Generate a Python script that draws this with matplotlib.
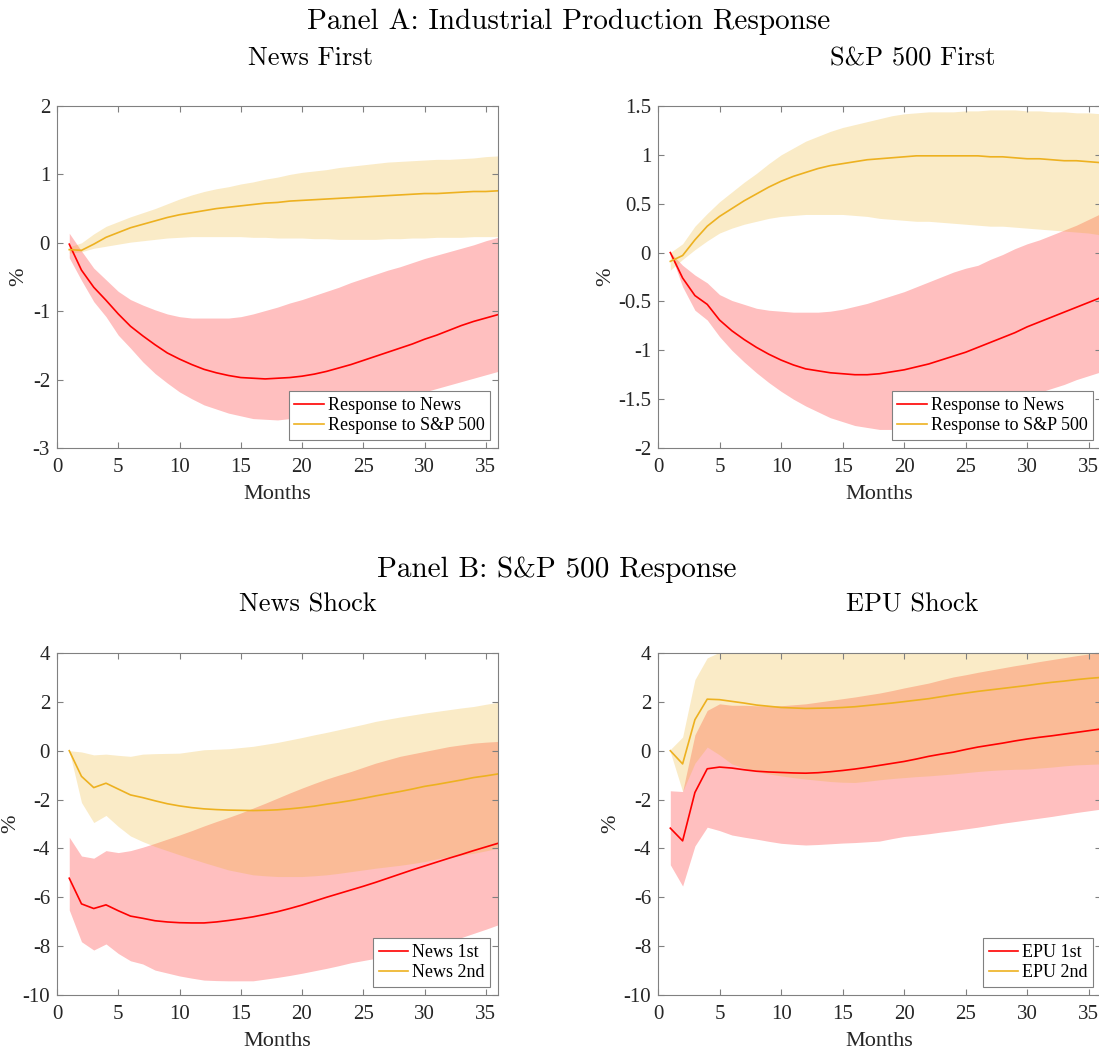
import numpy as np
import matplotlib
matplotlib.use('Agg')
import matplotlib.pyplot as plt

plt.rcParams['font.family'] = ['Liberation Serif', 'DejaVu Serif']
plt.rcParams['axes.unicode_minus'] = False

months = np.arange(1, 37)

# Panel A, News First
ipn_news = [-0.02, -0.40, -0.65, -0.84, -1.04, -1.22, -1.36, -1.49, -1.61, -1.70, -1.78, -1.85,
            -1.90, -1.94, -1.97, -1.98, -1.99, -1.98, -1.97, -1.95, -1.92, -1.88, -1.83, -1.78,
            -1.72, -1.66, -1.60, -1.54, -1.48, -1.41, -1.35, -1.28, -1.21, -1.15, -1.10, -1.05]
ipn_news_lo = [-0.22, -0.55, -0.86, -1.08, -1.35, -1.54, -1.74, -1.91, -2.05, -2.18, -2.28, -2.37,
               -2.43, -2.49, -2.53, -2.57, -2.58, -2.59, -2.57, -2.54, -2.51, -2.48, -2.45, -2.42,
               -2.40, -2.35, -2.31, -2.27, -2.22, -2.18, -2.13, -2.08, -2.03, -1.98, -1.93, -1.88]
ipn_news_hi = [0.14, -0.12, -0.37, -0.54, -0.71, -0.83, -0.91, -0.98, -1.04, -1.08, -1.10, -1.10,
               -1.10, -1.10, -1.08, -1.04, -0.99, -0.94, -0.88, -0.83, -0.77, -0.71, -0.65, -0.58,
               -0.52, -0.46, -0.40, -0.35, -0.29, -0.23, -0.18, -0.13, -0.08, -0.03, 0.03, 0.08]
ipn_sp = [-0.10, -0.11, -0.02, 0.08, 0.15, 0.22, 0.27, 0.32, 0.37, 0.41, 0.44, 0.47,
          0.50, 0.52, 0.54, 0.56, 0.58, 0.59, 0.61, 0.62, 0.63, 0.64, 0.65, 0.66,
          0.67, 0.68, 0.69, 0.70, 0.71, 0.72, 0.72, 0.73, 0.74, 0.75, 0.75, 0.76]
ipn_sp_lo = [-0.15, -0.13, -0.08, -0.05, -0.02, 0.01, 0.03, 0.05, 0.07, 0.08, 0.09, 0.09,
             0.09, 0.09, 0.09, 0.08, 0.08, 0.07, 0.07, 0.07, 0.06, 0.06, 0.05, 0.05,
             0.05, 0.05, 0.06, 0.06, 0.07, 0.07, 0.08, 0.08, 0.08, 0.09, 0.09, 0.09]
ipn_sp_hi = [-0.06, 0.00, 0.13, 0.24, 0.31, 0.38, 0.44, 0.50, 0.57, 0.64, 0.70, 0.75,
             0.79, 0.82, 0.86, 0.89, 0.93, 0.96, 1.00, 1.03, 1.05, 1.07, 1.10, 1.12,
             1.14, 1.16, 1.18, 1.19, 1.20, 1.21, 1.22, 1.22, 1.23, 1.24, 1.26, 1.27]

# Panel A, S&P 500 First
ips_news = [0.00, -0.26, -0.44, -0.53, -0.69, -0.80, -0.89, -0.97, -1.04, -1.10, -1.15, -1.19,
            -1.21, -1.23, -1.24, -1.25, -1.25, -1.24, -1.22, -1.20, -1.17, -1.14, -1.10, -1.06,
            -1.02, -0.97, -0.92, -0.87, -0.82, -0.76, -0.71, -0.66, -0.61, -0.56, -0.51, -0.46]
ips_news_lo = [0.00, -0.35, -0.59, -0.69, -0.86, -1.00, -1.12, -1.23, -1.33, -1.42, -1.50, -1.57,
               -1.63, -1.69, -1.73, -1.77, -1.79, -1.81, -1.81, -1.80, -1.78, -1.76, -1.74, -1.71,
               -1.68, -1.64, -1.60, -1.56, -1.51, -1.47, -1.43, -1.39, -1.35, -1.30, -1.26, -1.22]
ips_news_hi = [0.00, -0.13, -0.23, -0.31, -0.43, -0.49, -0.53, -0.57, -0.59, -0.60, -0.61, -0.61,
               -0.61, -0.60, -0.58, -0.55, -0.52, -0.48, -0.44, -0.40, -0.35, -0.30, -0.25, -0.20,
               -0.16, -0.13, -0.07, -0.02, 0.04, 0.09, 0.13, 0.18, 0.23, 0.28, 0.34, 0.40]
ips_sp = [-0.09, -0.03, 0.13, 0.27, 0.37, 0.45, 0.53, 0.60, 0.67, 0.73, 0.78, 0.82,
          0.86, 0.89, 0.91, 0.93, 0.95, 0.96, 0.97, 0.98, 0.99, 0.99, 0.99, 0.99,
          0.99, 0.99, 0.98, 0.98, 0.97, 0.96, 0.96, 0.95, 0.94, 0.94, 0.93, 0.92]
ips_sp_lo = [-0.18, -0.07, 0.03, 0.12, 0.20, 0.25, 0.29, 0.32, 0.35, 0.37, 0.38, 0.39,
             0.39, 0.39, 0.39, 0.38, 0.37, 0.35, 0.34, 0.33, 0.32, 0.32, 0.31, 0.30,
             0.29, 0.28, 0.27, 0.27, 0.26, 0.25, 0.24, 0.23, 0.22, 0.21, 0.20, 0.18]
ips_sp_hi = [0.00, 0.09, 0.27, 0.40, 0.52, 0.62, 0.72, 0.81, 0.91, 1.00, 1.07, 1.14,
             1.19, 1.24, 1.28, 1.31, 1.34, 1.37, 1.40, 1.42, 1.43, 1.44, 1.44, 1.44,
             1.45, 1.45, 1.46, 1.46, 1.46, 1.45, 1.45, 1.44, 1.44, 1.43, 1.43, 1.42]

# Panel B, News Shock
spn_1st = [-5.22, -6.27, -6.46, -6.31, -6.55, -6.77, -6.86, -6.96, -7.01, -7.04, -7.05, -7.05,
           -7.01, -6.95, -6.88, -6.80, -6.70, -6.59, -6.46, -6.32, -6.16, -6.00, -5.85, -5.70,
           -5.55, -5.39, -5.22, -5.05, -4.88, -4.72, -4.56, -4.40, -4.25, -4.09, -3.94, -3.79]
spn_1st_lo = [-6.52, -7.82, -8.16, -7.91, -8.30, -8.60, -8.73, -8.98, -9.10, -9.22, -9.31, -9.39,
              -9.41, -9.42, -9.42, -9.42, -9.35, -9.28, -9.20, -9.11, -9.01, -8.91, -8.80, -8.68,
              -8.59, -8.50, -8.40, -8.30, -8.20, -8.09, -7.96, -7.82, -7.65, -7.48, -7.31, -7.13]
spn_1st_hi = [-3.54, -4.31, -4.40, -4.09, -4.17, -4.09, -3.95, -3.79, -3.62, -3.45, -3.27, -3.08,
              -2.90, -2.73, -2.55, -2.35, -2.15, -1.94, -1.73, -1.53, -1.34, -1.16, -1.00, -0.85,
              -0.68, -0.51, -0.37, -0.23, -0.13, -0.03, 0.07, 0.17, 0.24, 0.31, 0.35, 0.38]
spn_2nd = [0.00, -1.05, -1.51, -1.33, -1.57, -1.81, -1.92, -2.05, -2.17, -2.26, -2.33, -2.38,
           -2.41, -2.43, -2.44, -2.45, -2.44, -2.42, -2.38, -2.33, -2.27, -2.19, -2.12, -2.04,
           -1.95, -1.85, -1.76, -1.67, -1.57, -1.46, -1.38, -1.29, -1.20, -1.10, -1.03, -0.95]
spn_2nd_lo = [0.00, -2.12, -2.94, -2.65, -3.10, -3.49, -3.72, -3.92, -4.09, -4.26, -4.42, -4.58,
              -4.73, -4.88, -4.98, -5.08, -5.12, -5.15, -5.15, -5.15, -5.12, -5.08, -5.02, -4.95,
              -4.88, -4.81, -4.75, -4.69, -4.62, -4.54, -4.43, -4.33, -4.27, -4.20, -4.10, -3.99]
spn_2nd_hi = [0.00, -0.05, -0.17, -0.14, -0.19, -0.23, -0.14, -0.12, -0.11, -0.10, -0.03, 0.04,
              0.06, 0.08, 0.13, 0.18, 0.26, 0.34, 0.44, 0.54, 0.65, 0.75, 0.86, 0.97,
              1.08, 1.20, 1.29, 1.38, 1.46, 1.54, 1.61, 1.68, 1.75, 1.81, 1.90, 1.98]

# Panel B, EPU Shock
spe_1st = [-3.17, -3.69, -1.71, -0.74, -0.67, -0.71, -0.78, -0.84, -0.87, -0.89, -0.91, -0.92,
           -0.90, -0.86, -0.81, -0.75, -0.68, -0.60, -0.52, -0.44, -0.34, -0.23, -0.14, -0.06,
           0.05, 0.15, 0.23, 0.31, 0.40, 0.48, 0.55, 0.61, 0.68, 0.75, 0.82, 0.89]
spe_1st_lo = [-4.67, -5.54, -3.90, -3.13, -3.27, -3.45, -3.54, -3.62, -3.71, -3.79, -3.83, -3.86,
              -3.84, -3.81, -3.78, -3.76, -3.73, -3.70, -3.60, -3.51, -3.46, -3.40, -3.33, -3.27,
              -3.20, -3.13, -3.05, -2.97, -2.90, -2.83, -2.76, -2.69, -2.61, -2.53, -2.46, -2.39]
spe_1st_hi = [-1.64, -1.67, 0.65, 1.65, 1.92, 1.86, 1.86, 1.84, 1.84, 1.84, 1.88, 1.92,
              1.99, 2.06, 2.13, 2.20, 2.28, 2.36, 2.46, 2.57, 2.67, 2.77, 2.90, 3.02,
              3.11, 3.21, 3.30, 3.39, 3.48, 3.56, 3.65, 3.73, 3.81, 3.89, 3.96, 4.02]
spe_2nd = [0.00, -0.54, 1.27, 2.11, 2.09, 2.02, 1.95, 1.87, 1.82, 1.77, 1.75, 1.73,
           1.74, 1.75, 1.77, 1.80, 1.85, 1.90, 1.95, 2.01, 2.07, 2.13, 2.21, 2.29,
           2.36, 2.43, 2.49, 2.55, 2.61, 2.67, 2.74, 2.80, 2.85, 2.91, 2.96, 3.00]
spe_2nd_lo = [-0.05, -1.67, -0.51, 0.15, -0.17, -0.54, -0.71, -0.85, -0.95, -1.03, -1.10, -1.16,
              -1.21, -1.26, -1.29, -1.30, -1.25, -1.19, -1.14, -1.10, -1.06, -1.03, -0.99, -0.95,
              -0.90, -0.85, -0.81, -0.78, -0.76, -0.75, -0.71, -0.67, -0.62, -0.58, -0.56, -0.54]
spe_2nd_hi = [0.05, 0.56, 2.91, 3.80, 4.03, 4.10, 4.15, 4.20, 4.25, 4.30, 4.36, 4.42,
              4.48, 4.55, 4.62, 4.70, 4.78, 4.86, 4.94, 5.02, 5.10, 5.18, 5.26, 5.34,
              5.42, 5.50, 5.57, 5.64, 5.71, 5.78, 5.84, 5.90, 5.96, 6.02, 6.08, 6.14]

red = (1.0, 0.0, 0.0)
orange = (0.929, 0.694, 0.125)
grey = '#808080'
dark = '#262626'
W, H = 1099, 1051

fig = plt.figure(figsize=(W / 100, H / 100), dpi=100)


def make_ax(left, right, top, bottom):
    return fig.add_axes([left / W, 1 - bottom / H, (right - left) / W, (bottom - top) / H])


def panel(ax, l1, l1_lo, l1_hi, l2, l2_lo, l2_hi, labels, ylim, yticks, yticklabels):
    ax.fill_between(months, l1_lo, l1_hi, color=red, alpha=0.25, lw=0)
    ax.fill_between(months, l2_lo, l2_hi, color=orange, alpha=0.25, lw=0)
    ax.plot(months, l1, color=red, lw=1.2, label=labels[0])
    ax.plot(months, l2, color=orange, lw=1.2, label=labels[1])
    ax.set_xlim(0, 36)
    ax.set_ylim(*ylim)
    ax.set_xticks([0, 5, 10, 15, 20, 25, 30, 35])
    ax.set_yticks(yticks)
    ax.set_yticklabels(yticklabels)
    ax.tick_params(direction='in', top=True, right=True, length=4, width=0.8,
                   color=grey, labelcolor=dark, labelsize=15)
    ax.tick_params(axis='x', pad=7)
    ax.tick_params(axis='y', pad=5)
    for s in ax.spines.values():
        s.set_color(grey)
        s.set_linewidth(0.8)
    ax.set_xlabel('Months', fontsize=16, color=dark, labelpad=6)
    leg = ax.legend(loc='lower right', fontsize=13, fancybox=False, framealpha=1,
                    edgecolor=grey, handlelength=1.65, handletextpad=0.2,
                    borderaxespad=0.45, borderpad=0.3, labelspacing=0.2)
    leg.get_frame().set_linewidth(0.8)


ax1 = make_ax(57, 498, 106, 448)
panel(ax1, ipn_news, ipn_news_lo, ipn_news_hi, ipn_sp, ipn_sp_lo, ipn_sp_hi,
      ['Response to News', 'Response to S&P 500'], (-3, 2),
      [-3, -2, -1, 0, 1, 2], ['-3', '-2', '-1', '0', '1', '2'])

ax2 = make_ax(658, 1101, 106, 448)
panel(ax2, ips_news, ips_news_lo, ips_news_hi, ips_sp, ips_sp_lo, ips_sp_hi,
      ['Response to News', 'Response to S&P 500'], (-2, 1.5),
      [-2, -1.5, -1, -0.5, 0, 0.5, 1, 1.5], ['-2', '-1.5', '-1', '-0.5', '0', '0.5', '1', '1.5'])

ax3 = make_ax(57, 498, 653, 995)
panel(ax3, spn_1st, spn_1st_lo, spn_1st_hi, spn_2nd, spn_2nd_lo, spn_2nd_hi,
      ['News 1st', 'News 2nd'], (-10, 4),
      [-10, -8, -6, -4, -2, 0, 2, 4], ['-10', '-8', '-6', '-4', '-2', '0', '2', '4'])

ax4 = make_ax(658, 1101, 653, 995)
panel(ax4, spe_1st, spe_1st_lo, spe_1st_hi, spe_2nd, spe_2nd_lo, spe_2nd_hi,
      ['EPU 1st', 'EPU 2nd'], (-10, 4),
      [-10, -8, -6, -4, -2, 0, 2, 4], ['-10', '-8', '-6', '-4', '-2', '0', '2', '4'])

# y labels placed by hand, the tick label widths differ between panels
for x, y in [(19, 277), (606, 277), (11, 824), (611, 824)]:
    fig.text(x / W, 1 - y / H, '%', fontsize=16, color=dark, rotation=90,
             ha='center', va='center')


# titles in Computer Modern (cmr10 ships with matplotlib)
def ftext(x, y, s, size):
    fig.text(x / W, 1 - y / H, s, fontsize=size, ha='center', va='baseline',
             family=['cmr10', 'DejaVu Serif'])


ftext(569, 29, 'Panel A: Industrial Production Response', 21)
ftext(310, 65, 'News First', 19)
ftext(913, 65, 'S&P 500 First', 19)
ftext(557, 577, 'Panel B: S&P 500 Response', 21)
ftext(308, 612, 'News Shock', 19)
ftext(912, 612, 'EPU Shock', 19)

fig.savefig('out.png', dpi=100)
